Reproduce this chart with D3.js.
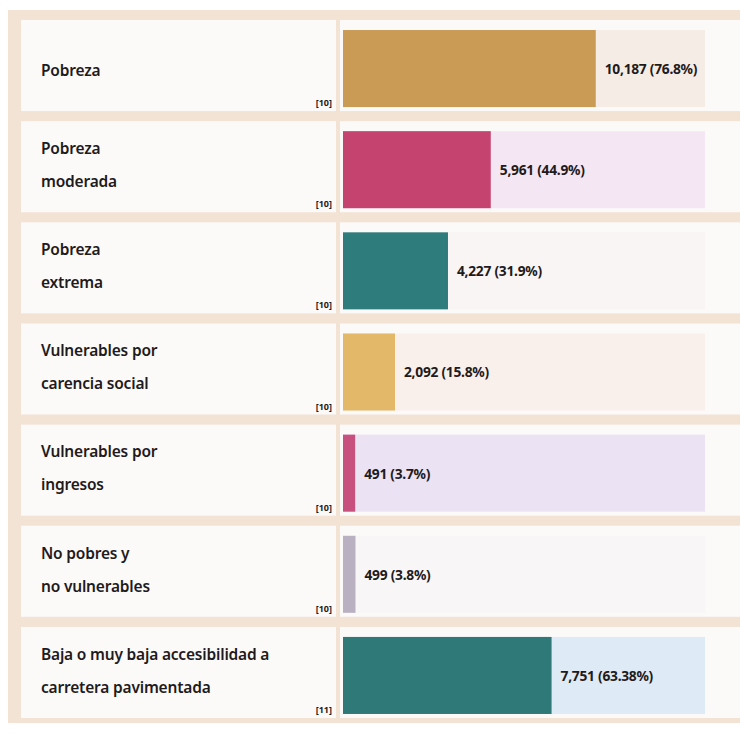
<!DOCTYPE html>
<html>
<head>
<meta charset="utf-8">
<script src="https://cdn.jsdelivr.net/npm/d3@7"></script>
<style>
  html, body { margin: 0; padding: 0; background: #ffffff; }
  svg { display: block; }
  text { font-family: "Noto Sans", "Open Sans", sans-serif; fill: #1f1b1c; }
</style>
</head>
<body>
<div id="chart"></div>
<script>
const width = 740, height = 734;

// data
const labelLines = [
  ["Pobreza"],
  ["Pobreza", "moderada"],
  ["Pobreza", "extrema"],
  ["Vulnerables por", "carencia social"],
  ["Vulnerables por", "ingresos"],
  ["No pobres y", "no vulnerables"],
  ["Baja o muy baja accesibilidad a", "carretera pavimentada"]
];
const counts   = [10187, 5961, 4227, 2092, 491, 499, 7751];
const percents = [76.8, 44.9, 31.9, 15.8, 3.7, 3.8, 63.38];
const refs     = ["[10]", "[10]", "[10]", "[10]", "[10]", "[10]", "[11]"];

const barColors   = ["#c99b55", "#c4436f", "#2f7c7c", "#e3b868", "#c8507f", "#b9b0c1", "#2f7a78"];
const trackColors = ["#f6ece6", "#f4e7f3", "#f9f5f4", "#f9f0eb", "#ebe3f3", "#f8f6f6", "#deeaf5"];

const rows = d3.range(counts.length);

const svg = d3.select("#chart").append("svg")
  .attr("width", width)
  .attr("height", height);

// beige frame
svg.append("rect")
  .attr("x", 8).attr("y", 10)
  .attr("width", width - 8).attr("height", 713)
  .attr("fill", "#f2e3d4");

const y = d3.scaleBand()
  .domain(rows)
  .range([18, 720])
  .paddingInner(0.1)
  .paddingOuter(0.02);

// bar scale: 0-110 % across the track
const x = d3.scaleLinear()
  .domain([0, 110])
  .range([0, 362]);

const barX = 343;
const fmt = d3.format(",");

const row = svg.selectAll("g.row")
  .data(rows)
  .enter()
  .append("g")
  .attr("class", "row")
  .attr("transform", d => "translate(0," + y(d) + ")");

// left card
row.append("rect")
  .attr("x", 21).attr("y", 0)
  .attr("width", 315).attr("height", y.bandwidth())
  .attr("fill", "#fcf9f9");

// right card
row.append("rect")
  .attr("x", 340).attr("y", 0)
  .attr("width", width - 340).attr("height", y.bandwidth())
  .attr("fill", "#fcf9f9");

// track
row.append("rect")
  .attr("x", barX).attr("y", 10)
  .attr("width", x(110)).attr("height", y.bandwidth() - 14)
  .attr("fill", d => trackColors[d]);

// bar
row.append("rect")
  .attr("x", barX).attr("y", 10)
  .attr("width", d => x(percents[d])).attr("height", y.bandwidth() - 14)
  .attr("fill", d => barColors[d]);

// value label (narrowed a bit to look like the condensed original)
row.append("text")
  .attr("transform", d => "translate(" + (barX + x(percents[d]) + 9) + "," + (10 + (y.bandwidth() - 14) / 2) + ") scale(0.92,1)")
  .attr("dy", "0.36em")
  .style("font-size", "15px")
  .style("font-weight", 700)
  .style("letter-spacing", "-0.3px")
  .text(d => fmt(counts[d]) + " (" + percents[d] + "%)");

// category label
row.append("text")
  .attr("transform", "translate(41,0) scale(0.94,1)")
  .style("font-size", "16.5px")
  .style("font-weight", 600)
  .style("letter-spacing", "-0.2px")
  .each(function(d) {
    const lines = labelLines[d];
    const t = d3.select(this);
    const ys = lines.length === 1 ? [50] : [27, 60];
    lines.forEach((l, i) => {
      t.append("tspan")
        .attr("x", 0)
        .attr("y", ys[i])
        .attr("dy", "0.35em")
        .text(l);
    });
  });

// reference note
row.append("text")
  .attr("x", 332)
  .attr("y", y.bandwidth() - 5)
  .attr("text-anchor", "end")
  .style("font-size", "9px")
  .style("font-weight", 700)
  .text(d => refs[d]);
</script>
</body>
</html>
